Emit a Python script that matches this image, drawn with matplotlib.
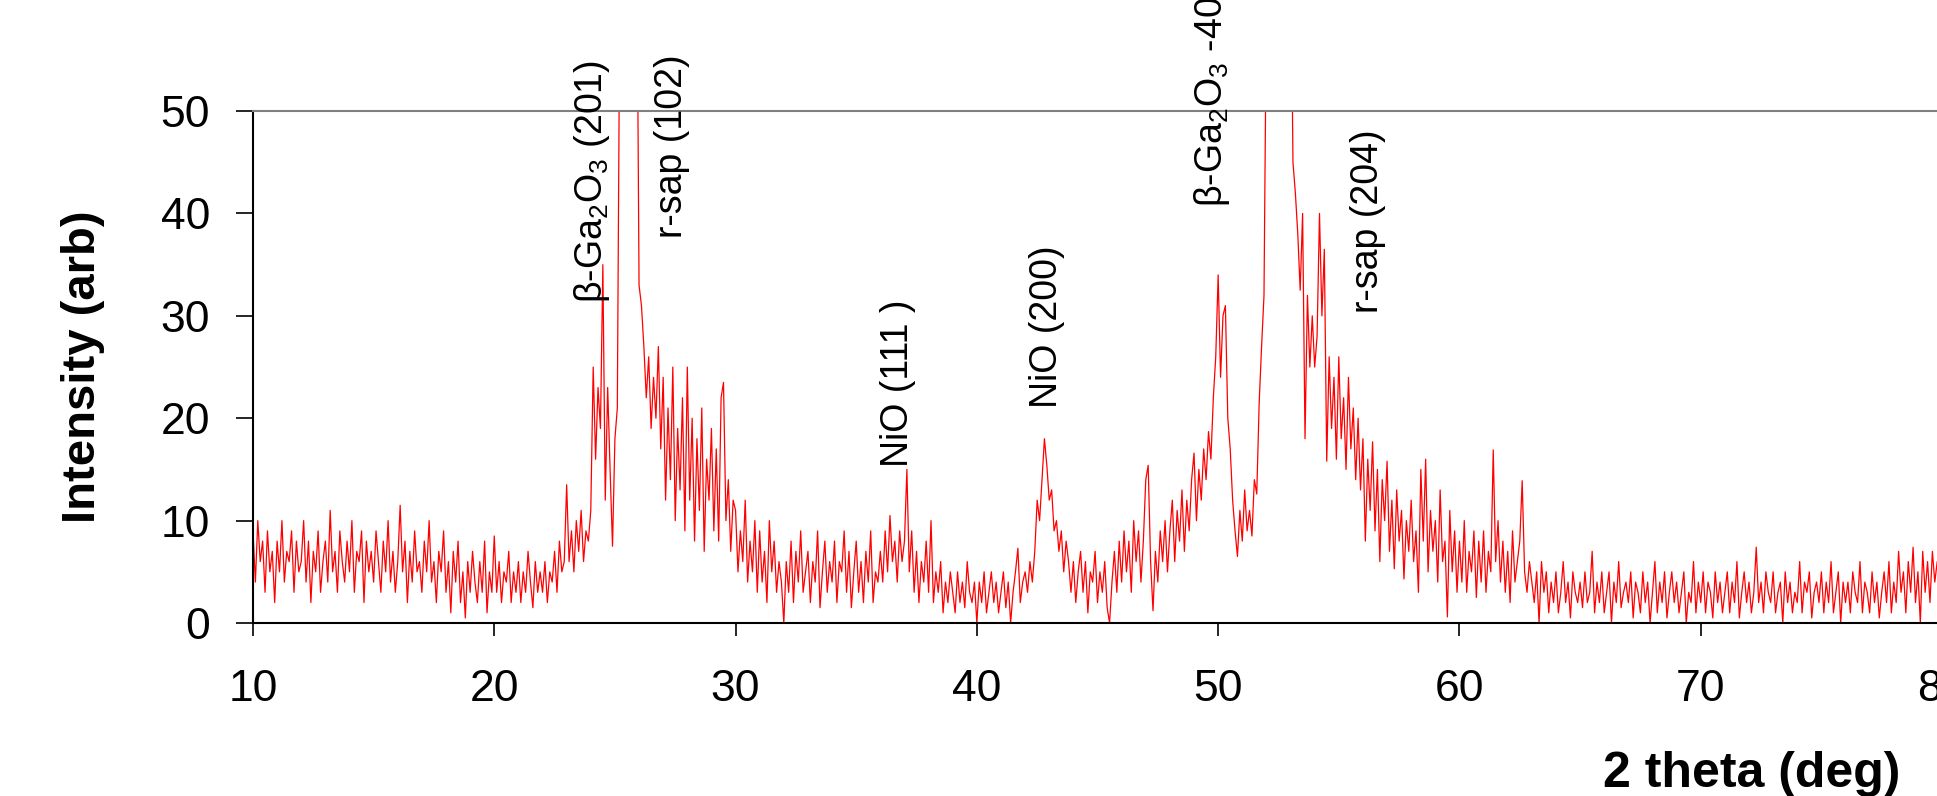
import numpy as np
import matplotlib
matplotlib.use("Agg")
import matplotlib.pyplot as plt

plt.rcParams['font.family'] = ['Liberation Sans', 'DejaVu Sans']
plt.rcParams['mathtext.fontset'] = 'custom'
plt.rcParams['mathtext.rm'] = 'Liberation Sans'
plt.rcParams['mathtext.default'] = 'regular'

# intensity, one value every 0.1 deg (2 theta)
seg_10 = [9, 4, 10, 6, 8, 3, 9, 5, 7, 2,
          8, 5, 10, 4, 7, 6, 9, 3, 8, 5,
          6, 10, 4, 8, 2, 7, 5, 9, 3, 6,
          8, 4, 11, 5, 7, 3, 9, 6, 4, 8,
          5, 10, 3, 7, 6, 9, 2, 8, 5, 7,
          4, 9, 6, 3, 8, 5, 10, 4, 7, 3,
          6, 11.5, 5, 8, 2, 7, 4, 9, 5, 6,
          3, 8, 5, 10, 4, 6, 2, 7, 5, 9,
          3, 6, 1, 7, 4, 8, 2, 5, 0.5, 6,
          3, 7, 4, 2, 6, 3, 8, 1, 5, 3]
seg_20 = [8.5, 3, 6, 2, 5, 4, 7, 2, 5, 3,
          6, 2, 5, 3, 7, 4, 1.5, 6, 3, 5,
          3, 6, 2, 5, 4, 7, 3, 8, 5, 6,
          13.5, 6, 9, 5, 10, 7, 11, 6, 9, 8,
          11, 25, 16, 23, 19, 35, 12, 23, 15, 7.5,
          18, 21, 60, 150, 400, 900, 700, 300, 120, 70,
          33, 31, 27, 22, 26, 19, 24, 20, 27, 17,
          24, 12, 21, 14, 25, 10, 19, 13, 22, 9,
          25, 12, 20, 8, 18, 11, 21, 7, 16, 12,
          19, 9, 17, 8, 22, 23.5, 10, 14, 7, 12]
seg_30 = [11, 5, 9, 6, 12, 4, 8, 5, 10, 3,
          9, 4, 7, 2, 10, 5, 8, 3, 6, 4,
          0, 6, 3, 8, 2, 7, 4, 9, 3, 5,
          7, 2, 6, 4, 9, 1.5, 5, 8, 3, 6,
          4, 8, 2, 6, 5, 9, 3, 7, 1.5, 5,
          8, 3, 6, 2, 7, 4, 9, 2, 5, 4,
          7, 4, 9, 5, 10.5, 6, 8, 4, 9, 6,
          8, 15, 5, 9, 3, 7, 2, 6, 4, 8,
          3, 10, 2, 5, 3, 6, 1, 4, 2, 5,
          3, 1, 5, 2, 4, 1.5, 6, 3, 2, 4]
seg_40 = [0, 4, 2, 5, 1, 3, 5, 2, 4, 1,
          3, 5, 1.5, 4, 0, 3, 5, 7.3, 2, 4,
          5, 3, 6, 4, 7, 12, 10, 14, 18, 15.4,
          12, 13, 9, 10, 7, 9, 5, 8, 6, 3,
          6, 2, 5, 7, 3, 6, 1, 5, 4, 7,
          2, 5, 3, 6, 1.5, 0, 4, 7, 3, 8,
          4, 9, 5, 8, 3, 10, 6, 9, 4, 8,
          14, 15.4, 6, 1.2, 7, 4, 9, 6, 10, 5,
          9, 12, 6, 11, 8, 13, 7, 12, 9, 14,
          16.6, 10, 15, 12, 17, 14, 18.7, 16, 22, 26]
seg_50 = [34, 24, 30, 31, 20, 17, 12, 9, 6.5, 11,
          8, 13, 9, 11, 8.5, 14, 12.6, 21.5, 27, 32,
          60, 150, 400, 900, 1500, 1200, 700, 350, 180, 100,
          70, 45, 42, 38, 32.5, 40, 18, 32, 25, 30,
          25, 28, 40, 30, 36.5, 15.8, 26, 19, 24, 16,
          26, 18, 22, 15, 24, 17, 21, 14, 20, 13,
          18, 8, 16, 11, 17.7, 9, 15, 6, 14, 10,
          15.8, 7, 12, 5.3, 13, 8, 11, 4.3, 10, 7,
          12, 6, 9, 3, 15, 8, 16, 5, 11, 7,
          10, 4, 13, 6, 8, 0.6, 11, 5, 9, 3]
seg_60 = [8, 4, 10, 3, 7, 5, 9, 2.5, 8, 4,
          9, 3, 7, 5, 16.9, 6, 10, 4, 8, 3,
          7, 2, 9, 4, 6, 8, 13.9, 5, 3, 6,
          4, 2, 5, 0, 6, 3, 5, 1, 4, 2,
          5, 1, 3, 6, 2, 4, 0.5, 5, 3, 2,
          4, 1.5, 5, 2, 3, 7, 1, 4, 2, 5,
          1, 3, 5, 0, 4, 2, 6, 1.5, 3, 4,
          2, 5, 0.5, 4, 3, 1, 5, 2, 4, 0,
          3, 6, 1, 4, 2, 5, 0.5, 3, 5, 2,
          4, 1, 3, 5, 0, 3, 2, 6, 1, 4]
seg_70 = [2, 5, 1, 4, 3, 0.5, 5, 2, 4, 1,
          3, 5, 1, 4, 2, 6, 0.5, 3, 5, 2,
          4, 1, 3, 7.4, 2, 4, 1, 5, 3, 2,
          5, 1, 3, 4, 0, 5, 2, 4, 1, 3,
          2, 6, 1, 4, 3, 5, 0.5, 3, 4, 2,
          5, 1, 4, 2, 6, 1, 3, 5, 0, 4,
          2, 4, 1, 5, 3, 2, 6, 1, 4, 3,
          1, 5, 2, 4, 0.5, 3, 5, 2, 6, 1,
          4, 2, 7, 3, 5, 1, 6, 3, 7.4, 2,
          5, 0, 7, 3, 6, 2, 7, 4, 6, 3, 7]

intensity = seg_10 + seg_20 + seg_30 + seg_40 + seg_50 + seg_60 + seg_70
two_theta = 10 + 0.1 * np.arange(len(intensity))

# peak labels: text, 2theta position, intensity where the label starts
peak_names = [r'$\beta$-Ga$_2$O$_3$ (201)', 'r-sap (102)', 'NiO (111 )',
              'NiO (200)', r'$\beta$-Ga$_2$O$_3$ -402', 'r-sap (204)']
peak_x = [24.05, 27.36, 36.75, 42.9, 49.75, 56.2]
peak_y = [31.3, 37.6, 15.2, 21.0, 40.6, 30.3]

fig = plt.figure(figsize=(19.37, 7.96), dpi=100)
ax = fig.add_axes([0.1306, 0.2173, 0.872, 0.6432])

ax.plot(two_theta, intensity, color='#ff0000', lw=0.9)

ax.set_xlim(10, 80)
ax.set_ylim(0, 50)
ax.set_xticks(range(10, 81, 10))
ax.set_yticks(range(0, 51, 10))
ax.tick_params(axis='y', direction='out', length=12, width=1.2, pad=19, labelsize=32)
ax.tick_params(axis='x', direction='out', length=9.4, width=1.2, pad=24, labelsize=32)
ax.spines['top'].set_color('#808080')
ax.spines['top'].set_linewidth(1.5)
ax.spines['left'].set_linewidth(1.5)
ax.spines['bottom'].set_linewidth(1.5)
ax.spines['right'].set_visible(False)

for name, px, py in zip(peak_names, peak_x, peak_y):
    ax.text(px, py, name, rotation=90, ha='center', va='bottom', fontsize=27)

fig.text(0.0429, 0.539, 'Intensity (arb)', rotation=90, ha='center', va='center',
         fontsize=34, fontweight='bold')
fig.text(0.9045, 0.0113, '2 theta (deg)', ha='center', va='baseline',
         fontsize=36, fontweight='bold')

fig.savefig('out.png', dpi=100)
